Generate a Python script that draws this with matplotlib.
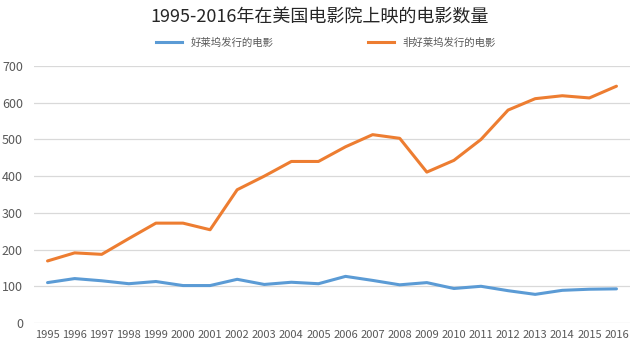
import matplotlib
matplotlib.use("Agg")
import matplotlib.pyplot as plt
from matplotlib.lines import Line2D

plt.rcParams['font.family'] = ['Noto Sans CJK SC', 'DejaVu Sans']

years = list(range(1995, 2017))
hollywood = [110, 121, 115, 107, 113, 102, 102, 119, 105, 111, 107, 127,
             116, 104, 110, 94, 100, 88, 78, 89, 92, 93]
non_hollywood = [169, 191, 187, 230, 272, 272, 254, 363, 400, 440, 440, 480,
                 513, 503, 411, 443, 500, 580, 611, 619, 613, 645]
title = "1995-2016年在美国电影院上映的电影数量"
label_h = "好莱坞发行的电影"
label_n = "非好莱坞发行的电影"

blue = "#5B9BD5"
orange = "#ED7D31"
tick_color = "#595959"

fig = plt.figure(figsize=(6.4, 3.48), dpi=100)
ax = fig.add_axes([34 / 640, 1 - 323 / 348, 596 / 640, (323 - 66) / 348])

ax.plot(years, hollywood, color=blue, lw=2.2, solid_capstyle='round', solid_joinstyle='round')
ax.plot(years, non_hollywood, color=orange, lw=2.2, solid_capstyle='round', solid_joinstyle='round')

ax.set_ylim(0, 700)
ax.set_xlim(1995 - 0.5, 2016 + 0.5)
ax.set_yticks(range(0, 701, 100))
ax.set_xticks(years)
ax.set_xticklabels([str(y) for y in years])
ax.grid(axis='y', color='#D9D9D9', lw=0.9)
ax.set_axisbelow(True)
for s in ax.spines.values():
    s.set_visible(False)
ax.tick_params(axis='both', length=0, labelsize=8, labelcolor=tick_color)
ax.tick_params(axis='y', pad=8)
ax.tick_params(axis='x', pad=5)
for lbl in ax.get_yticklabels():
    lbl.set_fontsize(9)

fig.text(0.5, 1 - 18 / 348, title, ha='center', va='center', fontsize=13, color='#262626')

handles = [Line2D([], [], color=blue, lw=2.2), Line2D([], [], color=orange, lw=2.2)]
fig.legend(handles, [label_h, label_n], loc='center', bbox_to_anchor=(326 / 640, 1 - 43 / 348),
           ncol=2, frameon=False, fontsize=7.5, handlelength=2.5, handletextpad=0.85,
           columnspacing=9, borderpad=0, labelcolor=tick_color)

fig.savefig("out.png", dpi=100, facecolor='white')
